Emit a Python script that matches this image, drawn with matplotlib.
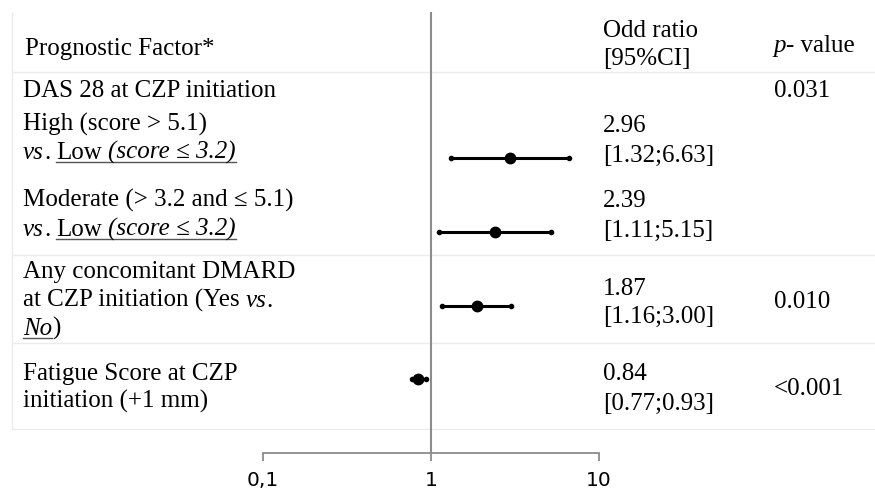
import matplotlib
matplotlib.use("Agg")
import matplotlib.pyplot as plt

W, H = 875, 493
SERIF = ["Liberation Serif", "DejaVu Serif"]
FS = 18
GRID = "#ebebeb"
AXC = "#8c8c8c"

# values
odds = [2.96, 2.39, 1.87, 0.84]
ci_lo = [1.32, 1.11, 1.16, 0.77]
ci_hi = [6.63, 5.15, 3.00, 0.93]
or_text = ["2.96", "2.39", "1.87", "0.84"]
ci_text = ["[1.32;6.63]", "[1.11;5.15]", "[1.16;3.00]", "[0.77;0.93]"]
p_text = ["0.031", "0.010", "<0.001"]
xticks = [0.1, 1, 10]
xtick_labels = ["0,1", "1", "10"]

# left column, one entry per printed line: (segments, baseline); segment = (text, italic, underline)
factor_lines = [
    ([("DAS 28 at CZP initiation", False, False)], 97),
    ([("High (score > 5.1)", False, False)], 131),
    ([("vs", True, False), (". ", False, False), ("Low", False, True),
      (" (score ≤ 3.2)", True, True)], 159),
    ([("Moderate (> 3.2 and ≤ 5.1)", False, False)], 207),
    ([("vs", True, False), (". ", False, False), ("Low", False, True),
      (" (score ≤ 3.2)", True, True)], 236),
    ([("Any concomitant DMARD", False, False)], 278),
    ([("at CZP initiation (Yes", False, False), (" vs", True, False), (".", False, False)], 307),
    ([("No", True, True), (")", False, False)], 335),
    ([("Fatigue Score at CZP", False, False)], 380),
    ([("initiation (+1 mm)", False, False)], 408),
]
row_y = [158, 232, 306, 379]          # marker rows
or_base = [(132, 162), (207, 237), (295, 323), (380, 410)]
p_base = [97, 308, 395]
sep_y = [72, 255, 343, 429]

fig = plt.figure(figsize=(W / 100, H / 100), dpi=100)
tab = fig.add_axes([0, 0, 1, 1])
tab.set_xlim(0, W)
tab.set_ylim(H, 0)
tab.axis("off")

tab.hlines(sep_y, 12, W, color=GRID, lw=1)
tab.vlines(12, 12, sep_y[-1], color=GRID, lw=1)

txt = dict(family=SERIF, fontsize=FS, color="black", va="baseline")
tab.text(25, 55, "Prognostic Factor*", **txt)
tab.text(603, 37, "Odd ratio", **txt)
tab.text(603, 65, "[95%CI]", **txt)
tab.text(773, 52, "p", fontstyle="italic", **txt)
tab.text(786, 52, "- value", **txt)

renderer = fig.canvas.get_renderer()
space = 0.25 * FS * 100 / 72


def rich(x, y, parts):
    ul_a = ul_b = None
    for s, ital, ul in parts:
        if s.startswith(" "):
            x += space
            s = s.lstrip()
        trail = s.endswith(" ")
        s = s.rstrip()
        if ul and ul_a is None:
            ul_a = x
        t = tab.text(x, y, s, fontstyle="italic" if ital else "normal", **txt)
        x += t.get_window_extent(renderer).width
        if ul:
            ul_b = x
        if trail:
            x += space
    if ul_a is not None:
        tab.plot([ul_a, ul_b], [y + 3, y + 3], color="#555", lw=1)


for parts, y in factor_lines:
    rich(23, y, parts)

for (b1, b2), o, c in zip(or_base, or_text, ci_text):
    tab.text(603, b1, o, **txt)
    tab.text(603, b2, c, **txt)
for y, p in zip(p_base, p_text):
    tab.text(774, y, p, **txt)

# forest panel, same vertical pixel scale as the table
ax = fig.add_axes([263 / W, (H - 453) / H, 336 / W, 441 / H])
ax.set_facecolor("none")
ax.set_xscale("log")
ax.set_xlim(0.1, 10)
ax.set_ylim(453, 12)
for side in ("top", "right", "left"):
    ax.spines[side].set_visible(False)
ax.spines["bottom"].set_color(AXC)
ax.spines["bottom"].set_linewidth(1.3)
ax.axvline(1, color=AXC, lw=1.5, zorder=1)

ax.hlines(row_y, ci_lo, ci_hi, color="black", lw=2.2, zorder=3)
ax.plot(ci_lo, row_y, "o", color="black", ms=3, zorder=3)
ax.plot(ci_hi, row_y, "o", color="black", ms=3, zorder=3)
ax.plot(odds, row_y, "o", color="black", ms=7.5, zorder=4)

ax.set_xticks(xticks)
ax.set_xticklabels(xtick_labels, family="DejaVu Sans", fontsize=14.5)
ax.minorticks_off()
ax.set_yticks([])
ax.tick_params(axis="x", length=6, width=1.3, color=AXC, pad=7)

fig.savefig("out.png", dpi=100)
